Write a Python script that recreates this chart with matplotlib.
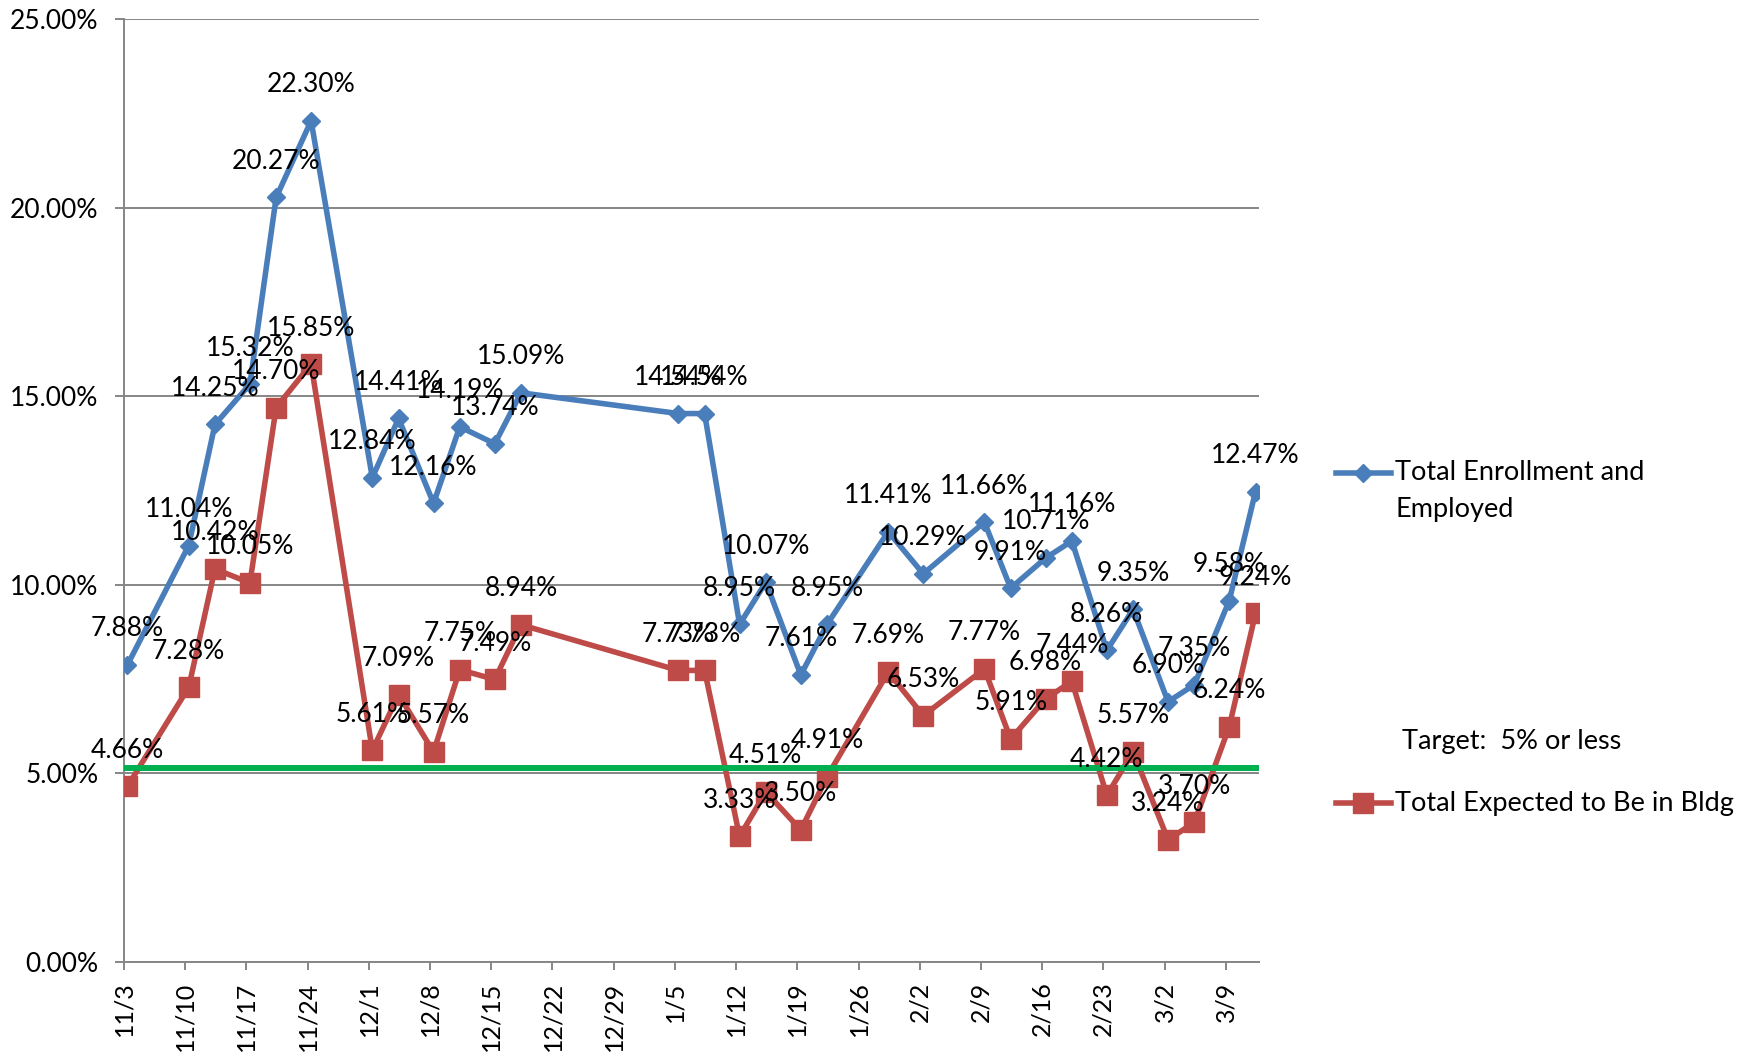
import numpy as np
import pandas as pd
import matplotlib.pyplot as plt
from matplotlib.lines import Line2D

plt.rcParams['font.family'] = ['Lato', 'DejaVu Sans']

# dates of each reading (Nov/Dec are 2014, Jan-Mar 2015)
dates = ["11/3", "11/10", "11/13", "11/17", "11/20", "11/24", "12/1", "12/4", "12/8", "12/11",
         "12/15", "12/18", "1/5", "1/8", "1/12", "1/15", "1/19", "1/22", "1/29", "2/2",
         "2/9", "2/12", "2/16", "2/19", "2/23", "2/26", "3/2", "3/5", "3/9", "3/12"]
enrolled = [7.88, 11.04, 14.25, 15.32, 20.27, 22.30, 12.84, 14.41, 12.16, 14.19,
            13.74, 15.09, 14.54, 14.54, 8.95, 10.07, 7.61, 8.95, 11.41, 10.29,
            11.66, 9.91, 10.71, 11.16, 8.26, 9.35, 6.90, 7.35, 9.58, 12.47]
in_bldg = [4.66, 7.28, 10.42, 10.05, 14.70, 15.85, 5.61, 7.09, 5.57, 7.75,
           7.49, 8.94, 7.73, 7.73, 3.33, 4.51, 3.50, 4.91, 7.69, 6.53,
           7.77, 5.91, 6.98, 7.44, 4.42, 5.57, 3.24, 3.70, 6.24, 9.24]
target = 5.15

start = pd.Timestamp("2014-11-03")
def to_ts(s):
    m, d = map(int, s.split("/"))
    return pd.Timestamp(year=2014 if m >= 11 else 2015, month=m, day=d)

days = np.array([(to_ts(s) - start).days for s in dates]) + 0.4
tick_dates = pd.date_range(start, periods=19, freq="7D")
tick_pos = [(t - start).days for t in tick_dates]
tick_labels = [f"{t.month}/{t.day}" for t in tick_dates]

W, H = 1748, 1052
BLUE = "#4A7EBB"
RED = "#BE4B48"
GREEN = "#00B050"
GRAY = "#868686"
FS = 19
LFS = 19.5

fig = plt.figure(figsize=(W / 100, H / 100), dpi=100)
ax = fig.add_axes([124 / W, 1 - 962 / H, (1259 - 124) / W, (962 - 19) / H])

ax.plot(days, enrolled, color=BLUE, lw=4, marker="D", ms=9, zorder=3)
ax.plot(days, in_bldg, color=RED, lw=4, marker="s", ms=14, zorder=3)
ax.axhline(target, color=GREEN, lw=4.3, zorder=4)

for x, v in zip(days, enrolled):
    ax.annotate(f"{v:.2f}%", (x, v), xytext=(0, 26), textcoords="offset points",
                ha="center", va="center", fontsize=FS, zorder=5)
for x, v in zip(days, in_bldg):
    ax.annotate(f"{v:.2f}%", (x, v), xytext=(0, 26), textcoords="offset points",
                ha="center", va="center", fontsize=FS, zorder=5)

ax.set_xlim(0, 129.8)
ax.set_ylim(0, 25)
ax.set_yticks(np.arange(0, 26, 5))
ax.set_yticklabels([f"{v:.2f}%" for v in np.arange(0, 26, 5)], fontsize=FS)
ax.set_xticks(tick_pos)
ax.set_xticklabels(tick_labels, rotation=90, fontsize=18)
ax.grid(axis="y", color=GRAY, lw=1.4, zorder=0)
ax.set_axisbelow(True)
for side in ["top", "right"]:
    ax.spines[side].set_visible(False)
for side in ["left", "bottom"]:
    ax.spines[side].set_color(GRAY)
    ax.spines[side].set_linewidth(1.4)
ax.tick_params(axis="y", length=6.5, width=1.4, color=GRAY, pad=12)
ax.tick_params(axis="x", length=6, width=1.4, color=GRAY, pad=8)

# legend drawn by hand to match the spacing
def fx(px):
    return px / W
def fy(py):
    return 1 - py / H

fig.add_artist(Line2D([fx(1336), fx(1363), fx(1391)], [fy(473)] * 3, transform=fig.transFigure,
                      color=BLUE, lw=4, marker="D", ms=9, markevery=[1]))
fig.text(fx(1395), fy(491), "Total Enrollment and\nEmployed", fontsize=LFS, va="center", ha="left",
         linespacing=1.6)
fig.text(fx(1402), fy(742), "Target:  5% or less", fontsize=LFS, va="center", ha="left")
fig.add_artist(Line2D([fx(1336), fx(1363), fx(1391)], [fy(803)] * 3, transform=fig.transFigure,
                      color=RED, lw=4, marker="s", ms=14, markevery=[1]))
fig.text(fx(1395), fy(803), "Total Expected to Be in Bldg", fontsize=LFS, va="center", ha="left")

fig.savefig("out.png", dpi=100)
